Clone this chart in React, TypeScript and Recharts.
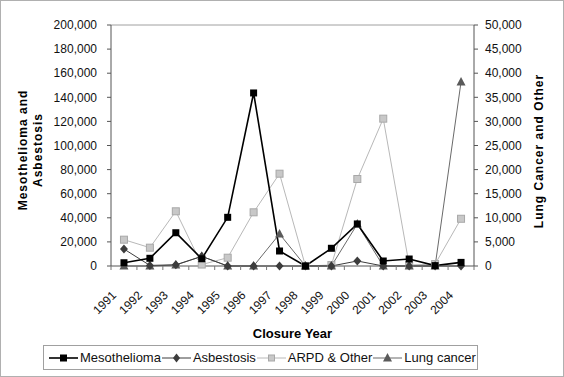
import { LineChart, Line, XAxis, YAxis, ReferenceLine, Label } from "recharts";

const years = ["1991", "1992", "1993", "1994", "1995", "1996", "1997", "1998", "1999", "2000", "2001", "2002", "2003", "2004"];
// left axis
const mesothelioma = [2700, 6400, 27600, 6000, 40400, 143600, 12450, 0, 14700, 34900, 4150, 5800, 300, 3000];
const asbestosis = [14100, 500, 1000, 8000, 0, 0, 0, 0, 0, 4150, 0, 0, 0, 0];
// right axis
const arpdOther = [5460, 3800, 11350, 300, 1720, 11140, 19150, 0, 200, 18050, 30570, 200, 400, 9800];
const lungCancer = [0, 0, 200, 2000, 0, 0, 6640, 0, 0, 8700, 0, 0, 0, 38180];

const leftTicks = [0, 20000, 40000, 60000, 80000, 100000, 120000, 140000, 160000, 180000, 200000];
const rightTicks = [0, 5000, 10000, 15000, 20000, 25000, 30000, 35000, 40000, 45000, 50000];

const data = years.map((year, i) => ({
  year,
  mesothelioma: mesothelioma[i],
  asbestosis: asbestosis[i],
  arpd: arpdOther[i],
  lung: lungCancer[i],
}));

const FONT = "'Liberation Sans', Arial, sans-serif";
const W = 564;
const H = 377;
const LEFT_W = 111;
const RIGHT_W = 90;
const HALF_BAND = (W - LEFT_W - RIGHT_W) / years.length / 2;

const fmt = (v: number) => v.toLocaleString("en-US");

function SquareDot({ cx, cy }: any) {
  if (cx == null || cy == null) return null;
  return <rect x={cx - 3.5} y={cy - 3.5} width={7} height={7} fill="#000" />;
}
function DiamondDot({ cx, cy }: any) {
  if (cx == null || cy == null) return null;
  return <path d={`M${cx},${cy - 4.5}L${cx + 4},${cy}L${cx},${cy + 4.5}L${cx - 4},${cy}Z`} fill="#3c3c3c" />;
}
function GraySquareDot({ cx, cy }: any) {
  if (cx == null || cy == null) return null;
  return <rect x={cx - 3.5} y={cy - 3.5} width={7} height={7} fill="#c8c8c8" stroke="#a8a8a8" strokeWidth={1} />;
}
function TriangleDot({ cx, cy }: any) {
  if (cx == null || cy == null) return null;
  return <path d={`M${cx},${cy - 5}L${cx + 4.5},${cy + 3.5}L${cx - 4.5},${cy + 3.5}Z`} fill="#5a5a5a" />;
}

function YearTick({ x, y, payload, index }: any) {
  const px = x - 7;
  const py = y + 30;
  return (
    <g>
      <line x1={x - HALF_BAND} x2={x - HALF_BAND} y1={y} y2={y + 4} stroke="#777" />
      {index === years.length - 1 && (
        <line x1={x + HALF_BAND} x2={x + HALF_BAND} y1={y} y2={y + 4} stroke="#777" />
      )}
      <text x={px} y={py} transform={`rotate(-45, ${px}, ${py})`} textAnchor="end" fontSize={12} fontFamily={FONT} fill="#111">
        {payload.value}
      </text>
    </g>
  );
}

const legendItems = [
  { name: "Mesothelioma", color: "#000", width: 1.6, dot: <rect x={10} y={3.5} width={7} height={7} fill="#000" /> },
  { name: "Asbestosis", color: "#3c3c3c", width: 1, dot: <path d="M13.5,2.5L17,7L13.5,11.5L10,7Z" fill="#3c3c3c" /> },
  { name: "ARPD & Other", color: "#b8b8b8", width: 1, dot: <rect x={10.5} y={4} width={6} height={6} fill="#c8c8c8" stroke="#a8a8a8" /> },
  { name: "Lung cancer", color: "#6a6a6a", width: 1, dot: <path d="M13.5,2L18,10.5L9,10.5Z" fill="#5a5a5a" /> },
];

export default function App() {
  return (
    <div style={{ position: "absolute", top: 0, left: 0, width: W, height: H, background: "#fff", fontFamily: FONT }}>
      <div style={{ position: "absolute", top: 0, left: 0, width: W - 2, height: H - 2, border: "1px solid #b0b0b0" }} />
      <LineChart width={W} height={H} data={data} margin={{ top: 25, right: 0, bottom: 0, left: 0 }}>
        <XAxis
          dataKey="year"
          height={H - 266}
          padding={{ left: HALF_BAND, right: HALF_BAND }}
          tickLine={false}
          tickSize={0}
          tickMargin={0}
          interval={0}
          axisLine={{ stroke: "#555" }}
          tick={<YearTick />}
        >
          <Label
            content={({ viewBox }: any) => (
              <text
                x={viewBox.x + viewBox.width / 2}
                y={viewBox.y + 72}
                textAnchor="middle"
                fontSize={13}
                fontWeight="bold"
                fontFamily={FONT}
                fill="#000"
              >
                Closure Year
              </text>
            )}
          />
        </XAxis>
        <YAxis
          yAxisId="left"
          width={LEFT_W}
          domain={[0, 200000]}
          ticks={leftTicks}
          tickFormatter={fmt}
          interval={0}
          tickSize={4}
          tickMargin={10}
          axisLine={{ stroke: "#555" }}
          tickLine={{ stroke: "#555" }}
          tick={{ fontSize: 12, fill: "#111", fontFamily: FONT }}
        >
          <Label
            content={() => (
              <text
                transform="rotate(-90, 30, 150)"
                x={30}
                y={150}
                textAnchor="middle"
                fontSize={12}
                fontWeight="bold"
                fontFamily={FONT}
                letterSpacing={1}
                fill="#000"
              >
                <tspan x={30} dy={-3}>Mesothelioma and</tspan>
                <tspan x={30} dy={15}>Asbestosis</tspan>
              </text>
            )}
          />
        </YAxis>
        <YAxis
          yAxisId="right"
          orientation="right"
          width={RIGHT_W}
          domain={[0, 50000]}
          ticks={rightTicks}
          tickFormatter={fmt}
          interval={0}
          tickSize={4}
          tickMargin={7}
          axisLine={{ stroke: "#555" }}
          tickLine={{ stroke: "#555" }}
          tick={{ fontSize: 12, fill: "#111", fontFamily: FONT, textAnchor: "start" }}
        >
          <Label
            content={() => (
              <text
                transform="rotate(-90, 543, 151)"
                x={543}
                y={151}
                textAnchor="middle"
                fontSize={12}
                fontWeight="bold"
                fontFamily={FONT}
                letterSpacing={1}
                fill="#000"
              >
                Lung Cancer and Other
              </text>
            )}
          />
        </YAxis>
        <ReferenceLine yAxisId="left" y={200000} stroke="#a0a0a0" />
        <Line
          yAxisId="right"
          dataKey="arpd"
          stroke="#b8b8b8"
          strokeWidth={1}
          dot={<GraySquareDot />}
          isAnimationActive={false}
        />
        <Line
          yAxisId="right"
          dataKey="lung"
          stroke="#6a6a6a"
          strokeWidth={1}
          dot={<TriangleDot />}
          isAnimationActive={false}
        />
        <Line
          yAxisId="left"
          dataKey="asbestosis"
          stroke="#3c3c3c"
          strokeWidth={1}
          dot={<DiamondDot />}
          isAnimationActive={false}
        />
        <Line
          yAxisId="left"
          dataKey="mesothelioma"
          stroke="#000"
          strokeWidth={1.6}
          dot={<SquareDot />}
          isAnimationActive={false}
        />
      </LineChart>
      <div
        style={{
          position: "absolute",
          left: 43,
          top: 345,
          width: 428,
          height: 23,
          border: "1px solid #a0a0a0",
          display: "flex",
          alignItems: "center",
          paddingLeft: 5,
          boxSizing: "content-box",
          whiteSpace: "nowrap",
        }}
      >
        {legendItems.map((it) => (
          <div key={it.name} style={{ display: "flex", alignItems: "center", marginRight: 0, flexShrink: 0 }}>
            <svg width={29} height={14}>
              <line x1={0} x2={29} y1={7} y2={7} stroke={it.color} strokeWidth={it.width} />
              <g transform="translate(1,0)">{it.dot}</g>
            </svg>
            <span style={{ fontSize: 13, color: "#111", marginLeft: 2, marginRight: 1, flexShrink: 0 }}>{it.name}</span>
          </div>
        ))}
      </div>
    </div>
  );
}
